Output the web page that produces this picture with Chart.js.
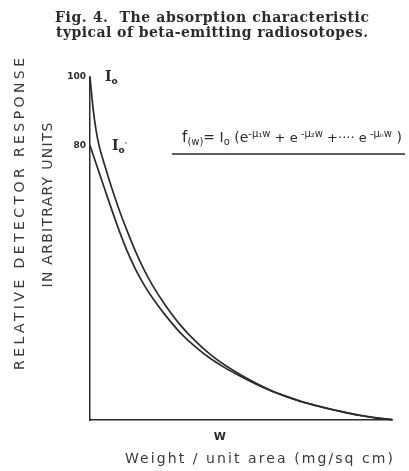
<!DOCTYPE html>
<html>
<head>
<meta charset="utf-8">
<script src="https://cdn.jsdelivr.net/npm/chart.js@4/dist/chart.umd.min.js"></script>
<style>
  html, body { margin: 0; padding: 0; background: #ffffff; }
  #wrap { width: 409px; height: 471px; }
</style>
</head>
<body>
<div id="wrap"><canvas id="c" width="409" height="471"></canvas></div>
<script>
// ---- data ----
const W_VALUES   = [0, 1, 2, 3, 4, 6, 8, 10, 12, 15, 18, 21, 25, 30, 35, 40, 45, 50, 55, 60, 65, 70, 75, 80, 85, 90, 95, 100];
const I0_VALUES  = [100, 91, 84.5, 80, 76.8, 71, 65.5, 60.4, 55.8, 49.3, 43.6, 38.8, 33.4, 27.6, 22.9, 19, 15.8, 13.1, 10.7, 8.6, 6.9, 5.4, 4.2, 3.1, 2.15, 1.3, 0.6, 0.1];
const I0P_VALUES = [80, 77.4, 74.8, 72.2, 69.6, 64.4, 59.3, 54.4, 49.9, 44.05, 39.25, 35.2, 30.5, 25.35, 21.25, 17.85, 15.05, 12.65, 10.4, 8.45, 6.8, 5.35, 4.15, 3.05, 2.1, 1.25, 0.55, 0.1];
const Y_TICKS = [80, 100];
const X_TICK_VALUE = 43;
const X_TICK_LABEL = 'W';
const TITLE_LINES = ['Fig. 4.  The absorption characteristic', 'typical of beta-emitting radiosotopes.'];
const Y_TITLE_LINES = ['RELATIVE DETECTOR RESPONSE', 'IN ARBITRARY UNITS'];
const X_TITLE = 'Weight / unit area (mg/sq cm)';

const INK = '#2b2b2b';

function toPoints(xs, ys) { return xs.map((x, i) => ({ x: x, y: ys[i] })); }

function drawRuns(ctx, x, y, parts, family) {
  let cx = x;
  parts.forEach(p => {
    ctx.font = (p.weight || 'normal') + ' ' + p.size + 'px ' + (p.family || family);
    ctx.fillText(p.t, cx, y + (p.dy || 0));
    cx += ctx.measureText(p.t).width;
  });
  return cx;
}
function runsWidth(ctx, parts, family) {
  let w = 0;
  parts.forEach(p => {
    ctx.font = (p.weight || 'normal') + ' ' + p.size + 'px ' + (p.family || family);
    w += ctx.measureText(p.t).width;
  });
  return w;
}
function spacedText(ctx, text, cx, cy, targetLen) {
  ctx.letterSpacing = '0px';
  const w0 = ctx.measureText(text).width;
  const sp = Math.max(0, (targetLen - w0) / Math.max(1, text.length - 1));
  ctx.letterSpacing = sp + 'px';
  const w1 = ctx.measureText(text).width - sp;
  ctx.textAlign = 'left';
  ctx.fillText(text, cx - w1 / 2, cy);
  ctx.letterSpacing = '0px';
}

const annotations = {
  id: 'annotations',
  afterDraw(chart) {
    const ctx = chart.ctx;
    const xs = chart.scales.x, ys = chart.scales.y;
    ctx.save();
    ctx.fillStyle = INK;
    ctx.textBaseline = 'middle';

    // Title
    ctx.font = 'bold 14px "DejaVu Serif"';
    spacedText(ctx, TITLE_LINES[0], 212, 18, 314);
    spacedText(ctx, TITLE_LINES[1], 212, 33, 312);

    // Y axis title (rotated, letter-spaced)
    ctx.fillStyle = '#3a3a3a';
    ctx.save();
    ctx.translate(20, 214);
    ctx.rotate(-Math.PI / 2);
    ctx.font = '14px "DejaVu Sans"';
    spacedText(ctx, Y_TITLE_LINES[0], 0, 0, 312);
    ctx.restore();
    ctx.save();
    ctx.translate(48, 205);
    ctx.rotate(-Math.PI / 2);
    ctx.font = '14px "DejaVu Sans"';
    spacedText(ctx, Y_TITLE_LINES[1], 0, 0, 165);
    ctx.restore();

    // X axis title
    ctx.font = '14px "DejaVu Sans"';
    spacedText(ctx, X_TITLE, 259, 459, 268);

    // Curve labels
    ctx.fillStyle = INK;
    ctx.textAlign = 'left';
    ctx.textBaseline = 'alphabetic';
    const lx0 = xs.getPixelForValue(W_VALUES[0]);
    const yTop = ys.getPixelForValue(I0_VALUES[0]);
    const yLow = ys.getPixelForValue(I0P_VALUES[0]);
    drawRuns(ctx, lx0 + 15, yTop + 4, [
      { t: 'I', size: 14, family: '"DejaVu Serif"', weight: 'bold' },
      { t: 'o', size: 9, dy: 3, weight: 'bold' }
    ], '"DejaVu Sans"');
    drawRuns(ctx, lx0 + 22, yLow + 4, [
      { t: 'I', size: 14, family: '"DejaVu Serif"', weight: 'bold' },
      { t: 'o', size: 9, dy: 3, weight: 'bold' },
      { t: '\u2019', size: 8, dy: -1 }
    ], '"DejaVu Sans"');

    // Formula
    const parts = [
      { t: 'f', size: 15 },
      { t: '(w)', size: 10, dy: 3 },
      { t: '= I', size: 14 },
      { t: 'o', size: 10, dy: 3 },
      { t: ' (e', size: 14 },
      { t: '-\u03bc\u2081w', size: 10, dy: -5 },
      { t: ' + e', size: 13 },
      { t: ' -\u03bc\u2082w', size: 10, dy: -5 },
      { t: ' +\u00b7\u00b7\u00b7\u00b7 e', size: 13 },
      { t: ' -\u03bc\u2099w', size: 10, dy: -5 },
      { t: ' )', size: 14 }
    ];
    const fw = runsWidth(ctx, parts, '"DejaVu Sans"');
    drawRuns(ctx, 292 - fw / 2, 142, parts, '"DejaVu Sans"');
    ctx.strokeStyle = INK;
    ctx.lineWidth = 1.5;
    ctx.beginPath();
    ctx.moveTo(172, 154);
    ctx.lineTo(405, 154);
    ctx.stroke();

    ctx.restore();
  }
};

new Chart(document.getElementById('c'), {
  type: 'line',
  data: {
    datasets: [
      { label: 'I0', data: toPoints(W_VALUES, I0_VALUES) },
      { label: "I0'", data: toPoints(W_VALUES, I0P_VALUES) }
    ]
  },
  options: {
    responsive: false,
    devicePixelRatio: 1,
    animation: false,
    layout: { padding: { top: 77, right: 17, bottom: 0, left: 0 } },
    elements: {
      line: { borderColor: INK, borderWidth: 1.7, fill: false, cubicInterpolationMode: 'monotone' },
      point: { radius: 0 }
    },
    datasets: { line: { clip: false } },
    plugins: { legend: { display: false }, tooltip: { enabled: false }, title: { display: false } },
    scales: {
      x: {
        type: 'linear', min: 0, max: 100,
        grid: { display: true, color: 'rgba(0,0,0,0)', drawTicks: false },
        border: { display: true, color: INK, width: 1.5 },
        afterBuildTicks: s => { s.ticks = [{ value: X_TICK_VALUE }]; },
        afterFit: s => { s.height = 51; },
        ticks: {
          padding: 11, color: INK,
          font: { family: '"DejaVu Sans"', size: 11, weight: 'bold' },
          callback: () => X_TICK_LABEL
        }
      },
      y: {
        type: 'linear', min: 0, max: 100,
        grid: { display: true, color: 'rgba(0,0,0,0)', drawTicks: false },
        border: { display: true, color: INK, width: 1.5 },
        afterBuildTicks: s => { s.ticks = Y_TICKS.map(v => ({ value: v })); },
        afterFit: s => { s.width = 90; },
        ticks: {
          padding: 4, color: INK,
          font: { family: '"DejaVu Sans"', size: 9, weight: 'bold' }
        }
      }
    }
  },
  plugins: [annotations]
});
</script>
</body>
</html>
